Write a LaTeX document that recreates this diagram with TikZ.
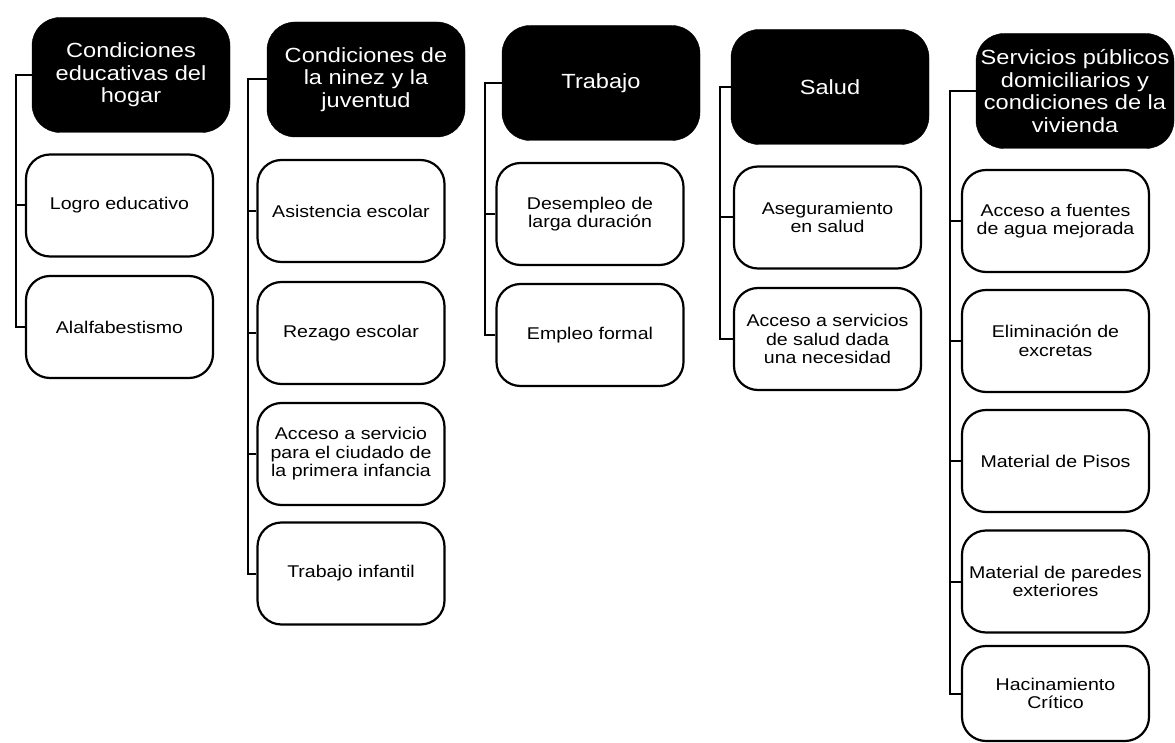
\documentclass[tikz,border=0pt]{standalone}
\usepackage{fontspec}
\setmainfont[FakeStretch=1.15]{Liberation Sans}
\begin{document}
\begin{tikzpicture}[x=1pt,y=-1pt,
  head/.style={fill=black, draw=black, rounded corners=28pt, minimum width=198pt, minimum height=115pt,
    text=white, font=\fontsize{20.5}{22.5}\selectfont, align=center, inner sep=1pt},
  item/.style={fill=white, draw=black, line width=2.2pt, rounded corners=24pt, minimum width=187pt,
    minimum height=102pt, font=\fontsize{17}{18.5}\selectfont, align=center, inner sep=1pt},
  link/.style={draw=black, line width=2pt}]
\useasboundingbox[fill=white] (0,0) rectangle (1175,743);

% vertical line positions
\coordinate (v1) at (16,0);
\coordinate (v2) at (248,0);
\coordinate (v3) at (485,0);
\coordinate (v4) at (720,0);
\coordinate (v5) at (950,0);

% column 1
\node[head] (h1) at (131,75) {Condiciones\\educativas del\\hogar};
\node[item] (a1) at (119.5,205.5) {Logro educativo};
\node[item] (a2) at (119.5,327) {Alalfabestismo};

% column 2
\node[head] (h2) at (366,79.5) {Condiciones de\\la ninez y la\\juventud};
\node[item] (b1) at (351,211) {Asistencia escolar};
\node[item] (b2) at (351,333) {Rezago escolar};
\node[item] (b3) at (351,454) {Acceso a servicio\\para el ciudado de\\la primera infancia};
\node[item] (b4) at (351,573.5) {Trabajo infantil};

% column 3
\node[head] (h3) at (601,83) {Trabajo};
\node[item] (c1) at (590,214) {Desempleo de\\larga duración};
\node[item] (c2) at (590,335) {Empleo formal};

% column 4
\node[head] (h4) at (830,87) {Salud};
\node[item] (d1) at (827.5,217.5) {Aseguramiento\\en salud};
\node[item] (d2) at (827.5,339) {Acceso a servicios\\de salud dada\\una necesidad};

% column 5
\node[head] (h5) at (1075,91) {Servicios públicos\\domiciliarios y\\condiciones de la\\vivienda};
\node[item] (e1) at (1055.5,221) {Acceso a fuentes\\de agua mejorada};
\node[item] (e2) at (1055.5,341) {Eliminación de\\excretas};
\node[item] (e3) at (1055.5,461) {Material de Pisos};
\node[item] (e4) at (1055.5,581.5) {Material de paredes\\exteriores};
\node[item, minimum height=95pt] (e5) at (1055.5,693.5) {Hacinamiento\\Crítico};

% connectors
\draw[link] (h1.west) -- (h1.west -| v1) -- (a2.west -| v1) -- (a2.west);
\draw[link] (a1.west -| v1) -- (a1.west);

\draw[link] (h2.west) -- (h2.west -| v2) -- (b4.west -| v2) -- (b4.west);
\draw[link] (b1.west -| v2) -- (b1.west);
\draw[link] (b2.west -| v2) -- (b2.west);
\draw[link] (b3.west -| v2) -- (b3.west);

\draw[link] (h3.west) -- (h3.west -| v3) -- (c2.west -| v3) -- (c2.west);
\draw[link] (c1.west -| v3) -- (c1.west);

\draw[link] (h4.west) -- (h4.west -| v4) -- (d2.west -| v4) -- (d2.west);
\draw[link] (d1.west -| v4) -- (d1.west);

\draw[link] (h5.west) -- (h5.west -| v5) -- (e5.west -| v5) -- (e5.west);
\draw[link] (e1.west -| v5) -- (e1.west);
\draw[link] (e2.west -| v5) -- (e2.west);
\draw[link] (e3.west -| v5) -- (e3.west);
\draw[link] (e4.west -| v5) -- (e4.west);
\end{tikzpicture}
\end{document}
